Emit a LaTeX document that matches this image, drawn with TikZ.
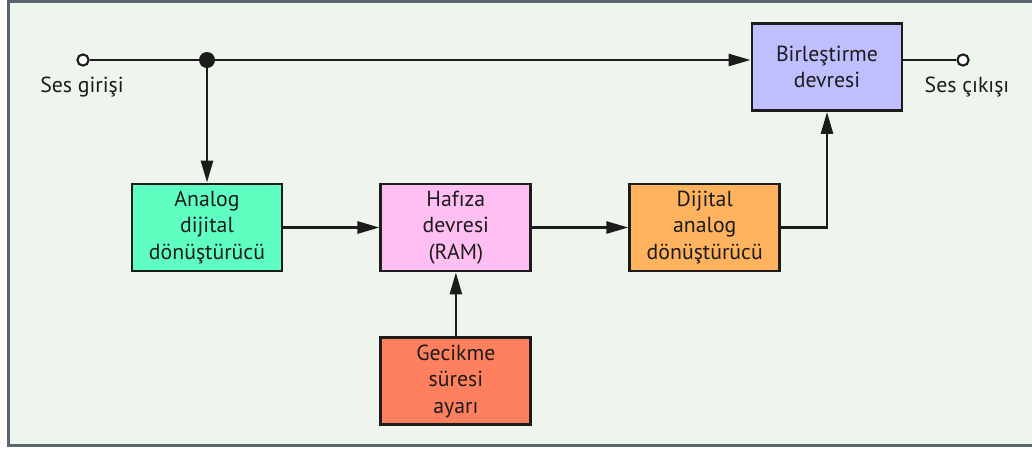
\documentclass[tikz,border=0pt]{standalone}
\usepackage{fontspec}
\setmainfont{PT Sans}
\usetikzlibrary{arrows.meta,positioning}
\definecolor{DLBack}{HTML}{EEF5EC}
\definecolor{DLFrame}{HTML}{5B6670}
\definecolor{DLLine}{HTML}{1C1C1C}
\definecolor{DLBlue}{HTML}{BFBFFF}
\definecolor{DLGreen}{HTML}{5FFFC2}
\definecolor{DLPink}{HTML}{FFBFF2}
\definecolor{DLOrange}{HTML}{FFB35F}
\definecolor{DLRed}{HTML}{FF805F}
\tikzset{
  dlBlock/.style={
    rectangle, draw=DLLine, fill=#1, line width=2pt,
    minimum width=3.75cm, minimum height=2.175cm, align=center,
    inner sep=2pt, text=DLLine, font=\fontsize{15.5}{18.8}\selectfont
  },
  dlBlock/.default=DLBlue,
  dlLabel/.style={text=DLLine, inner sep=1pt, font=\fontsize{15.5}{18.8}\selectfont},
  dlWire/.style={draw=DLLine, line width=1.9pt},
  dlArrow/.style={-{Triangle[length=5.5mm, width=3mm]}, draw=DLLine, line width=1.9pt},
  dlPort/.style={circle, draw=DLLine, fill=white, line width=1.5pt, minimum size=0.28cm, inner sep=0pt},
  dlDot/.style={circle, fill=DLLine, minimum size=0.4cm, inner sep=0pt}
}
\begin{document}
\begin{tikzpicture}[x=0.025cm, y=-0.025cm]
  \useasboundingbox (0,0) rectangle (1032,449);
  \fill[white] (0,0) rectangle (1032,449);
  \fill[DLBack] (9,2) rectangle (1032,445);
  \draw[DLFrame, line width=2.2pt] (1032,1.5) -- (8.5,1.5) -- (8.5,445.5) -- (1032,445.5);

  \node[dlBlock=DLGreen] (adc) at (207,227.5) {Analog\\dijital\\dönüştürücü};
  \node[dlBlock=DLPink, right=2.4cm of adc] (ram) {Hafıza\\devresi\\(RAM)};
  \node[dlBlock=DLOrange, right=2.4cm of ram] (dac) {Dijital\\analog\\dönüştürücü};
  \node[dlBlock=DLRed, below=1.6cm of ram] (delay) {Gecikme\\süresi\\ayarı};
  \node[dlBlock=DLBlue] (mix) at (827,67) {Birleştirme\\devresi};

  \node[dlPort] (in) at (83,60) {};
  \node[dlDot] (split) at (207,60) {};
  \node[dlPort] (out) at (963,60) {};
  \node[dlLabel] (inlbl) at (82,87) {Ses girişi};
  \node[dlLabel] (outlbl) at (967,87) {Ses çıkışı};

  \draw[dlWire] (in) -- (split);
  \draw[dlArrow] (split) -- (mix.west |- split);
  \draw[dlWire] (mix.east |- out) -- (out);
  \draw[dlArrow] (split) -- (adc);
  \draw[dlArrow] (adc) -- (ram);
  \draw[dlArrow] (ram) -- (dac);
  \draw[dlArrow] (delay) -- (ram);
  \draw[dlArrow] (dac.east) -| (mix);
\end{tikzpicture}
\end{document}
